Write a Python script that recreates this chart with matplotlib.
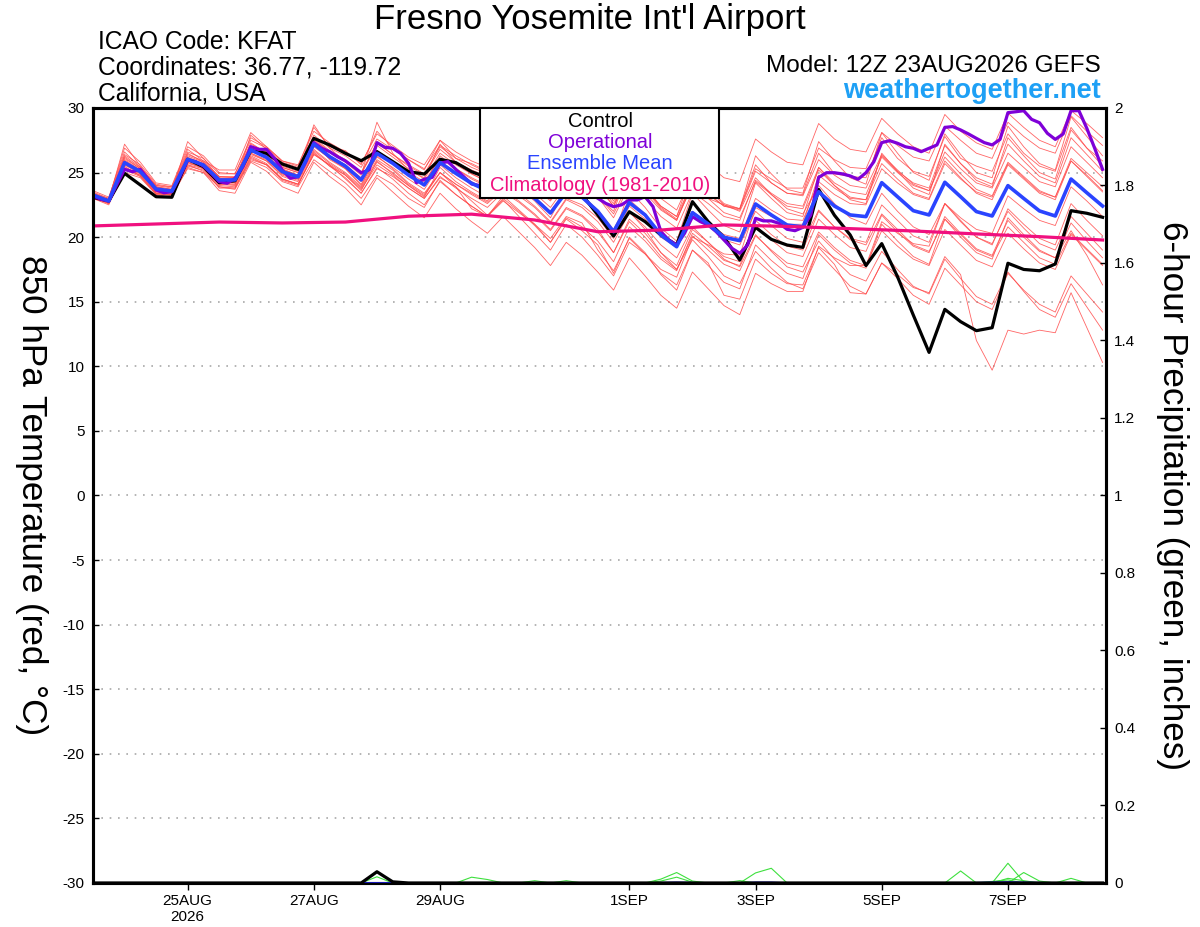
import numpy as np
import matplotlib
matplotlib.use('Agg')
import matplotlib.pyplot as plt
from matplotlib.patches import Rectangle

plt.rcParams['font.family'] = ['Liberation Sans', 'DejaVu Sans']

# 6-hourly steps from 12Z 23AUG2026
hours = np.arange(65) * 6
hours_op = np.arange(129) * 3
hours_clim = np.arange(0, 385, 24)

tick_hours = [36, 84, 132, 204, 252, 300, 348]
tick_labels = ['25AUG\n2026', '27AUG', '29AUG', '1SEP', '3SEP', '5SEP', '7SEP']

control = [23.09, 22.80, 24.94, 24.04, 23.13, 23.09, 26.03, 25.46, 24.22, 24.37,
           26.70, 26.49, 25.66, 25.25, 27.65, 27.14, 26.49, 25.92, 26.62, 25.85,
           25.07, 24.89, 26.03, 25.77, 25.07, 24.6, 25.4, 25.0, 24.3, 23.6,
           24.3, 23.3, 21.72, 20.09, 21.97, 21.20, 20.17, 19.39, 22.75, 21.20,
           19.99, 18.23, 20.76, 19.83, 19.39, 19.21, 23.70, 21.70, 20.17, 17.80,
           19.50, 16.94, 13.97, 11.08, 14.41, 13.46, 12.76, 12.99, 17.98, 17.50,
           17.40, 17.92, 22.05, 21.85, 21.54]

ens_mean = [23.26, 22.80, 25.77, 25.07, 23.73, 23.57, 26.03, 25.59, 24.43, 24.43,
            26.75, 26.18, 25.07, 24.68, 27.21, 26.23, 25.5, 24.43, 26.49, 25.72,
            24.81, 24.04, 25.77, 24.94, 24.17, 23.6, 24.6, 23.9, 23.0, 21.87,
            23.5, 23.1, 22.0, 20.42, 22.67, 21.72, 20.17, 19.26, 21.9, 21.02,
            19.99, 19.73, 22.57, 21.72, 20.94, 20.8, 23.52, 22.41, 21.72, 21.59,
            24.22, 23.13, 22.05, 21.72, 24.25, 23.13, 21.98, 21.64, 23.99, 23.0,
            22.03, 21.64, 24.5, 23.44, 22.41]

# operational run, 3-hourly
operational = [23.19, 22.93, 22.8, 24.04, 25.25, 25.07, 25.25, 24.48, 23.65, 23.44,
               23.52, 24.68, 25.97, 25.85, 25.51, 24.94, 24.30, 24.17, 24.56, 25.46,
               27.01, 26.80, 26.80, 26.10, 25.20, 24.56, 24.68, 25.85, 27.32, 26.88,
               26.62, 26.23, 25.9, 25.46, 24.99, 25.20, 27.32, 26.96, 26.88, 26.49,
               25.72, 24.22, 24.48, 24.63, 25.72, 25.85, 25.25, 24.68, 24.12, 24.0,
               23.8, 24.6, 25.5, 25.3, 24.9, 24.2, 23.6, 23.3, 23.2, 24.0,
               24.5, 24.2, 23.9, 23.4, 23.01, 22.62, 22.36, 22.5, 22.88, 22.88,
               23.14, 22.36, 20.43, 19.78, 19.39, 20.30, 21.59, 21.2, 20.94, 20.43,
               19.78, 19.14, 18.75, 19.39, 21.46, 21.26, 21.26, 21.07, 20.61, 20.5,
               20.76, 21.72, 24.63, 24.99, 24.99, 24.9, 24.74, 24.48, 24.99, 25.84,
               27.32, 27.47, 27.27, 27.0, 26.88, 26.62, 26.88, 27.14, 28.50, 28.56,
               28.30, 27.99, 27.65, 27.32, 27.14, 27.57, 29.64, 29.71, 29.79, 29.12,
               28.86, 28.04, 27.57, 27.99, 29.79, 29.79, 28.43, 26.88, 25.25]

climatology = [20.87, 21.02, 21.17, 21.1, 21.17, 21.62, 21.78, 21.33, 20.42,
               20.55, 20.95, 20.83, 20.66, 20.48, 20.25, 20.04, 19.78]

members = [
    [23.6, 23.1, 26.6, 25.4, 24.0, 23.9, 26.8, 25.9, 25.2, 25.2, 28.1, 27.0, 25.9, 25.5, 28.5, 27.0,
     26.7, 25.6, 28.2, 26.9, 26.0, 25.2, 27.5, 26.1, 25.7, 25.1, 26.6, 25.4, 24.5, 23.4, 25.5, 24.6,
     24.0, 22.4, 25.2, 23.7, 22.2, 21.3, 24.4, 23.0, 22.5, 22.2, 25.6, 24.2, 23.4, 23.3, 26.5, 24.9,
     24.7, 24.6, 27.7, 26.1, 25.1, 24.7, 27.8, 26.1, 25.5, 25.1, 28.0, 26.5, 25.5, 25.1, 28.5, 26.9, 25.9],
    [23.0, 22.6, 25.3, 24.8, 23.4, 23.3, 25.6, 25.3, 23.8, 23.8, 26.0, 25.6, 24.5, 24.1, 26.4, 25.6,
     24.5, 23.4, 25.3, 24.7, 23.8, 23.0, 24.6, 23.9, 22.2, 21.6, 22.8, 21.9, 21.0, 19.9, 21.6, 21.1,
     19.0, 17.4, 19.9, 18.7, 17.2, 16.3, 19.0, 18.0, 15.5, 15.2, 18.3, 17.2, 16.4, 16.3, 19.2, 17.9,
     15.7, 15.6, 18.0, 17.1, 16.1, 15.7, 18.5, 17.1, 12.0, 9.7, 12.8, 12.5, 12.8, 12.6, 15.7, 13.0, 10.3],
    [23.4, 22.9, 27.2, 25.5, 23.9, 23.5, 27.4, 26.1, 24.6, 24.2, 27.9, 26.8, 25.3, 24.8, 28.7, 26.9,
     25.8, 24.8, 28.9, 26.5, 25.2, 24.6, 27.2, 25.8, 24.9, 24.3, 26.9, 25.4, 24.0, 23.1, 25.9, 24.6,
     23.2, 22.0, 25.3, 23.8, 22.4, 21.6, 25.1, 23.8, 22.6, 22.2, 26.3, 24.9, 23.7, 23.4, 27.4, 25.9,
     24.6, 24.1, 28.1, 26.5, 25.0, 24.4, 28.0, 26.4, 25.0, 24.6, 28.6, 27.0, 25.7, 25.2, 29.3, 27.8, 26.3],
    [23.1, 22.7, 25.0, 24.6, 23.3, 23.3, 25.3, 25.0, 23.9, 23.7, 25.9, 25.4, 24.3, 23.9, 26.0, 25.1,
     24.2, 23.0, 24.8, 24.1, 23.0, 22.3, 24.4, 23.3, 22.4, 21.6, 23.2, 22.1, 21.0, 19.6, 21.4, 20.5,
     19.4, 17.2, 20.0, 18.8, 17.1, 15.9, 19.0, 17.8, 16.5, 16.0, 19.4, 18.2, 17.2, 16.8, 20.2, 19.0,
     18.0, 17.6, 21.0, 19.7, 18.5, 17.9, 21.4, 20.0, 18.8, 18.3, 21.5, 20.2, 19.0, 18.4, 20.5, 18.6, 16.3],
    [23.3, 22.9, 26.2, 25.3, 23.9, 23.7, 26.5, 25.8, 24.7, 24.6, 27.3, 26.5, 25.4, 25.0, 27.6, 26.6,
     26.0, 25.0, 27.3, 26.4, 25.5, 24.8, 26.8, 25.8, 25.2, 24.7, 26.0, 25.3, 24.5, 23.5, 25.8, 25.0,
     24.2, 23.0, 26.0, 25.2, 24.0, 23.3, 26.5, 25.6, 24.6, 24.3, 27.6, 26.6, 25.8, 25.6, 28.8, 27.6,
     26.8, 26.6, 29.2, 28.0, 27.0, 26.5, 29.5, 28.2, 27.3, 26.8, 29.6, 28.5, 27.5, 27.0, 29.8, 28.8, 27.7],
    [23.2, 22.6, 25.4, 24.9, 23.5, 23.4, 25.7, 25.4, 24.1, 24.1, 26.4, 25.9, 24.8, 24.4, 26.8, 25.8,
     25.0, 23.9, 26.0, 25.2, 24.1, 23.3, 25.0, 24.1, 23.3, 22.6, 23.7, 22.8, 21.8, 20.6, 22.3, 21.7,
     20.6, 18.8, 21.4, 20.3, 18.8, 17.8, 20.6, 19.6, 18.5, 18.1, 21.3, 20.2, 19.3, 19.0, 22.0, 20.8,
     19.9, 19.6, 22.5, 21.3, 20.1, 19.6, 22.6, 21.3, 20.0, 19.4, 22.2, 21.0, 19.9, 19.4, 22.6, 21.3, 20.1],
    [23.4, 22.8, 26.0, 25.2, 23.8, 23.6, 26.2, 25.7, 24.5, 24.6, 27.0, 26.4, 25.2, 24.8, 27.4, 26.0,
     25.3, 24.0, 26.3, 25.3, 24.2, 23.4, 25.0, 23.9, 22.8, 21.7, 22.9, 21.6, 20.3, 19.0, 21.0, 20.0,
     18.6, 17.0, 19.6, 18.7, 17.5, 16.9, 20.0, 19.4, 18.7, 18.6, 22.3, 21.6, 21.0, 21.0, 24.8, 23.8,
     23.0, 22.9, 26.3, 25.1, 24.2, 23.8, 27.1, 25.7, 24.6, 24.1, 27.2, 25.9, 24.7, 24.2, 27.7, 26.4, 25.1],
    [23.2, 22.8, 25.6, 25.0, 23.6, 23.5, 25.9, 25.5, 24.3, 24.2, 26.5, 26.0, 24.9, 24.5, 27.0, 26.1,
     25.4, 24.3, 26.7, 25.8, 24.9, 24.1, 26.3, 25.3, 24.5, 23.9, 25.3, 24.4, 23.4, 22.3, 24.0, 23.3,
     22.0, 20.1, 22.0, 20.6, 18.8, 17.5, 19.8, 18.5, 17.0, 16.4, 18.9, 17.6, 16.5, 16.0, 18.8, 17.5,
     16.2, 15.6, 18.0, 16.8, 15.5, 14.8, 17.6, 16.3, 15.0, 14.4, 17.2, 15.9, 14.8, 14.2, 17.0, 15.6, 14.2],
    [23.0, 22.5, 25.2, 24.7, 23.3, 23.1, 25.4, 25.0, 23.6, 23.4, 25.8, 25.1, 23.9, 23.4, 25.8, 24.7,
     23.8, 22.5, 24.6, 23.5, 22.4, 21.5, 23.4, 22.2, 21.2, 20.3, 21.6, 20.4, 19.2, 17.8, 19.6, 18.6,
     17.3, 15.9, 18.4, 17.0, 15.5, 14.5, 17.3, 16.0, 14.7, 14.0, 17.2, 16.4, 15.8, 15.8, 19.3, 18.4,
     17.8, 17.8, 21.2, 20.3, 19.5, 19.3, 22.6, 21.5, 20.6, 20.3, 23.2, 22.2, 21.3, 20.9, 23.9, 22.8, 21.6],
    [23.5, 23.0, 26.4, 25.6, 24.1, 23.9, 26.6, 26.1, 24.9, 24.9, 27.5, 26.9, 25.8, 25.4, 27.9, 26.9,
     26.3, 25.4, 27.6, 26.8, 26.0, 25.3, 27.1, 26.3, 25.6, 25.0, 26.3, 25.5, 24.6, 23.6, 25.3, 24.9,
     23.9, 22.4, 24.8, 23.8, 22.4, 21.6, 24.3, 23.4, 22.4, 22.1, 25.1, 24.2, 23.4, 23.2, 26.0, 24.8,
     24.0, 23.8, 26.4, 25.2, 24.1, 23.6, 26.2, 24.9, 23.7, 23.2, 25.8, 24.7, 23.6, 23.1, 26.1, 25.0, 23.9],
    [23.1, 22.7, 25.5, 24.7, 23.4, 23.2, 25.6, 25.1, 23.9, 23.8, 26.2, 25.6, 24.4, 24.0, 26.6, 25.5,
     24.8, 23.6, 25.9, 24.9, 24.0, 23.1, 25.4, 24.3, 23.5, 22.8, 24.9, 23.8, 22.8, 21.5, 23.8, 23.0,
     21.8, 20.1, 23.6, 22.3, 20.7, 19.7, 23.4, 22.1, 20.9, 20.4, 24.2, 23.0, 21.9, 21.6, 25.4, 24.0,
     22.9, 22.6, 26.5, 25.1, 23.8, 23.3, 27.2, 25.7, 24.4, 23.9, 27.7, 26.3, 25.0, 24.5, 28.3, 26.9, 25.5],
    [23.3, 22.8, 25.9, 25.2, 23.7, 23.6, 26.1, 25.7, 24.5, 24.5, 26.9, 26.3, 25.2, 24.8, 27.3, 26.3,
     25.6, 24.5, 26.6, 25.8, 24.9, 24.1, 25.9, 25.0, 24.3, 23.7, 24.8, 24.0, 23.1, 22.0, 23.7, 23.2,
     22.1, 20.6, 22.9, 21.8, 20.3, 19.4, 21.9, 20.9, 19.8, 19.4, 22.0, 20.9, 19.9, 19.6, 22.1, 20.8,
     19.8, 19.4, 21.8, 20.6, 19.4, 18.9, 21.4, 20.2, 19.0, 18.5, 20.8, 19.6, 18.4, 17.9, 20.3, 19.1, 17.9],
    [23.4, 23.0, 26.9, 25.8, 24.2, 24.0, 27.0, 26.3, 25.0, 24.9, 27.7, 27.0, 25.9, 25.6, 28.2, 27.3,
     26.6, 25.7, 28.0, 27.1, 26.2, 25.6, 27.5, 26.6, 25.9, 25.4, 27.0, 26.1, 25.1, 24.1, 25.9, 25.4,
     24.1, 22.6, 25.0, 23.8, 22.3, 21.4, 24.0, 23.0, 21.9, 21.5, 24.3, 23.3, 22.4, 22.2, 25.2, 24.0,
     23.1, 22.9, 25.7, 24.5, 23.4, 23.0, 25.9, 24.6, 23.4, 22.9, 25.6, 24.5, 23.4, 22.9, 25.9, 24.7, 23.5],
    [23.2, 22.7, 25.7, 25.0, 23.6, 23.4, 25.8, 25.4, 24.2, 24.1, 26.5, 25.9, 24.7, 24.3, 26.7, 25.7,
     24.9, 23.8, 25.8, 25.0, 24.0, 23.2, 25.0, 24.1, 23.4, 22.7, 24.0, 23.2, 22.3, 21.1, 22.9, 22.3,
     21.2, 19.6, 21.9, 20.8, 19.4, 18.4, 20.8, 19.6, 18.3, 17.7, 20.2, 18.9, 17.7, 17.3, 19.7, 18.3,
     17.1, 16.6, 18.9, 17.5, 16.2, 15.6, 18.3, 16.8, 15.4, 14.8, 17.3, 15.8, 14.4, 13.8, 16.4, 14.6, 12.8],
    [23.3, 22.8, 25.9, 25.1, 23.8, 23.6, 26.1, 25.6, 24.4, 24.4, 26.8, 26.3, 25.1, 24.7, 27.3, 26.3,
     25.6, 24.6, 26.7, 25.9, 25.0, 24.3, 26.1, 25.3, 24.6, 24.0, 25.3, 24.6, 23.8, 22.8, 24.6, 24.2,
     23.2, 21.8, 24.3, 23.4, 22.1, 21.3, 24.1, 23.3, 22.4, 22.2, 25.3, 24.5, 23.8, 23.8, 26.9, 26.0,
     25.4, 25.3, 28.1, 27.1, 26.2, 25.9, 28.6, 27.5, 26.5, 26.1, 28.9, 27.8, 26.9, 26.5, 29.4, 28.2, 27.1],
    [23.2, 22.7, 25.6, 24.9, 23.5, 23.4, 25.8, 25.3, 24.1, 24.0, 26.3, 25.7, 24.5, 24.1, 26.5, 25.5,
     24.6, 23.4, 25.4, 24.5, 23.4, 22.5, 24.3, 23.3, 22.4, 21.6, 23.0, 22.0, 20.9, 19.6, 21.5, 20.8,
     19.7, 18.1, 20.8, 19.7, 18.3, 17.4, 20.3, 19.3, 18.2, 17.8, 20.9, 19.8, 18.8, 18.5, 21.4, 20.2,
     19.2, 18.9, 21.7, 20.4, 19.3, 18.8, 21.6, 20.3, 19.1, 18.6, 21.3, 20.0, 18.9, 18.4, 21.1, 19.7, 18.4],
    [23.4, 22.9, 26.3, 25.4, 24.0, 23.8, 26.4, 25.9, 24.7, 24.7, 27.2, 26.6, 25.5, 25.1, 27.7, 26.7,
     26.0, 24.9, 27.1, 26.2, 25.3, 24.5, 26.5, 25.6, 24.9, 24.3, 25.6, 24.8, 23.9, 22.9, 24.6, 24.1,
     23.1, 21.5, 24.0, 23.0, 21.6, 20.7, 23.5, 22.6, 21.6, 21.3, 24.4, 23.4, 22.6, 22.4, 25.4, 24.2,
     23.5, 23.3, 26.2, 25.0, 24.0, 23.6, 26.6, 25.3, 24.2, 23.8, 26.5, 25.4, 24.3, 23.9, 27.0, 25.8, 24.6],
    [23.1, 22.6, 25.3, 24.8, 23.4, 23.3, 25.5, 25.2, 24.0, 23.9, 26.1, 25.6, 24.5, 24.1, 26.4, 25.6,
     24.8, 23.7, 25.6, 24.8, 23.8, 23.0, 24.7, 23.8, 23.0, 22.3, 23.5, 22.7, 21.7, 20.5, 22.2, 21.6,
     20.4, 18.8, 21.2, 20.0, 18.5, 17.5, 20.1, 19.0, 17.9, 17.4, 20.1, 19.0, 18.0, 17.7, 20.4, 19.2,
     18.2, 17.8, 20.5, 19.3, 18.3, 17.8, 20.6, 19.4, 18.2, 17.7, 20.3, 19.1, 18.0, 17.5, 20.2, 19.0, 17.8],
    [23.3, 22.9, 26.1, 25.3, 23.9, 23.7, 26.3, 25.8, 24.6, 24.6, 27.0, 26.5, 25.4, 25.0, 27.5, 26.6,
     25.9, 24.9, 27.3, 26.4, 25.6, 24.9, 27.0, 26.1, 25.4, 24.9, 26.5, 25.7, 24.8, 23.8, 25.9, 25.3,
     24.3, 22.8, 25.6, 24.5, 23.0, 22.1, 24.8, 23.7, 22.5, 22.0, 24.6, 23.3, 22.2, 21.8, 24.0, 22.6,
     21.5, 21.0, 23.4, 22.0, 20.8, 20.2, 22.6, 21.2, 20.0, 19.5, 22.0, 20.7, 19.5, 19.0, 21.6, 20.3, 19.0],
    [23.2, 22.8, 25.8, 25.1, 23.7, 23.5, 26.0, 25.5, 24.3, 24.3, 26.7, 26.1, 24.9, 24.5, 27.1, 26.1,
     25.3, 24.1, 26.2, 25.4, 24.5, 23.7, 25.6, 24.6, 23.8, 23.1, 24.2, 23.4, 22.4, 21.2, 23.0, 22.5,
     21.5, 19.9, 22.4, 21.4, 20.0, 19.2, 22.0, 21.1, 20.2, 19.9, 23.0, 22.1, 21.4, 21.3, 24.3, 23.3,
     22.6, 22.5, 25.3, 24.2, 23.3, 22.9, 25.7, 24.5, 23.5, 23.1, 25.7, 24.6, 23.5, 23.1, 25.9, 24.8, 23.6],
]

# 6-hour precipitation (inches)
precip_control = [0] * 17 + [0.0, 0.029, 0.003] + [0] * 45
precip_mean = [0] * 36 + [0.001, 0.002, 0.001] + [0] * 3 + [0.002, 0.002] + [0] * 12 + [0.001, 0.002, 0.003, 0.002, 0.001] + [0] * 4
precip_members = [
    [0] * 18 + [0.016, 0.0] + [0] * 4 + [0.015, 0.009] + [0] * 10 + [0.010, 0.027, 0.005] + [0] * 3
    + [0.026, 0.038] + [0] * 14 + [0.051, 0.003] + [0] * 5,
    [0] * 36 + [0.005, 0.015, 0.002] + [0] * 16 + [0.031, 0.0] + [0] * 8,
    [0] * 28 + [0.006, 0.0, 0.006] + [0] * 28 + [0.027, 0.005] + [0] * 4,
    [0] * 57 + [0.004, 0.008, 0.0, 0.0, 0.0, 0.012, 0.0, 0.0],
    [0] * 41 + [0.006] + [0] * 16 + [0.012, 0.006] + [0] * 5,
]

fig = plt.figure(figsize=(12, 9.27), dpi=100)
ax = fig.add_axes([0.0775, 0.04747, 0.84417, 0.83603])

for m in members:
    ax.plot(hours, m, color='#ff4a4a', lw=0.6, alpha=0.85, zorder=2)
ax.plot(hours, control, color='black', lw=2.3, zorder=4)
ax.plot(hours_op, operational, color='#7f00d8', lw=2.3, zorder=5)
ax.plot(hours, ens_mean, color='#2a44ff', lw=2.6, zorder=6)
ax.plot(hours_clim, climatology, color='#f0107f', lw=2.3, zorder=7)

ax.set_xlim(0, 385.3)
ax.set_ylim(-30, 30)
ax.set_yticks(np.arange(-30, 31, 5))
ax.set_yticklabels([str(v) for v in range(-30, 31, 5)], fontsize=11)
for v in range(-25, 30, 5):
    ax.axhline(v, color='#a8a8a8', lw=1.2, ls=(0, (1, 4)), zorder=1)
ax.set_xticks(tick_hours)
ax.set_xticklabels(tick_labels, fontsize=11)
ax.tick_params(axis='y', direction='in', length=4, pad=6, width=1)
ax.tick_params(axis='x', direction='out', length=5, pad=3, width=1)

ax2 = ax.twinx()
for p in precip_members:
    ax2.plot(hours, p, color='#3ee03e', lw=0.8, zorder=2)
ax2.plot(hours, precip_mean, color='#2020ff', lw=1.0, zorder=3)
ax2.plot(hours, precip_control, color='black', lw=2.3, zorder=4)
ax2.set_ylim(0, 2)
ax2.set_yticks(np.arange(0, 2.01, 0.2))
ax2.set_yticklabels(['0', '0.2', '0.4', '0.6', '0.8', '1', '1.2', '1.4', '1.6', '1.8', '2'], fontsize=11)
ax2.tick_params(axis='y', direction='in', length=4, pad=6, width=1)

for a in (ax, ax2):
    for s in a.spines.values():
        s.set_linewidth(2.2)

# legend box
ax2.add_patch(Rectangle((0.382, 0.8839), 0.236, 0.1161, transform=ax2.transAxes,
                        facecolor='white', edgecolor='black', lw=1.5, zorder=20, clip_on=False))
leg_items = [('Control', 'black', 0.9832), ('Operational', '#7f00d8', 0.9561),
             ('Ensemble Mean', '#2a44ff', 0.9290), ('Climatology (1981-2010)', '#f0107f', 0.9006)]
for txt, col, yy in leg_items:
    ax2.text(0.5005, yy, txt, color=col, fontsize=14.5, ha='center', va='center',
             transform=ax2.transAxes, zorder=21)

fig.text(0.026, 0.466, '850 hPa Temperature (red, °C)', rotation=270, fontsize=25.3,
         ha='center', va='center')
fig.text(0.977, 0.466, '6-hour Precipitation (green, inches)', rotation=270, fontsize=25.3,
         ha='center', va='center')

fig.text(0.4917, 0.979, "Fresno Yosemite Int'l Airport", fontsize=25, ha='center', va='center')
fig.text(0.0817, 0.955, 'ICAO Code: KFAT', fontsize=17.7, ha='left', va='center')
fig.text(0.0817, 0.927, 'Coordinates: 36.77, -119.72', fontsize=17.7, ha='left', va='center')
fig.text(0.0817, 0.899, 'California, USA', fontsize=17.7, ha='left', va='center')
fig.text(0.9175, 0.929, 'Model: 12Z 23AUG2026 GEFS', fontsize=17.5, ha='right', va='center')
fig.text(0.9175, 0.902, 'weathertogether.net', fontsize=19.5, ha='right', va='center',
         color='#1ea0f5', fontweight='bold')

fig.savefig('out.png', dpi=100)
